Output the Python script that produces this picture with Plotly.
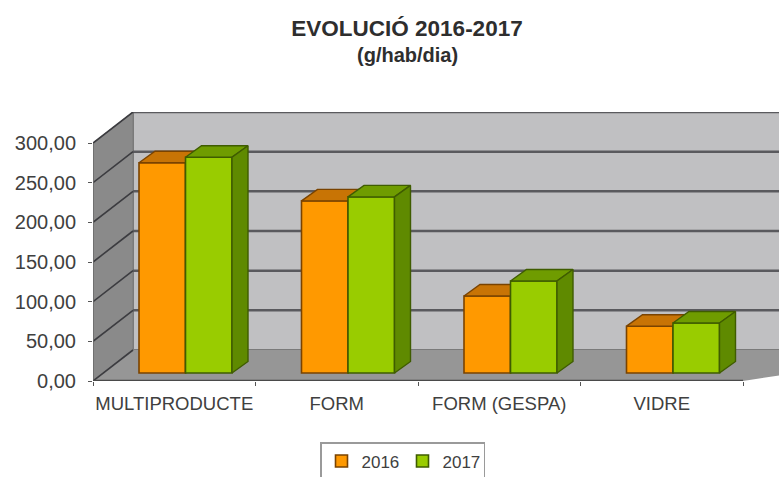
import plotly.graph_objects as go

# ---- data ----
categories = ["MULTIPRODUCTE", "FORM", "FORM (GESPA)", "VIDRE"]
values_2016 = [265, 217, 97, 59]
values_2017 = [272, 222, 116, 63]
y_ticks = [0, 50, 100, 150, 200, 250, 300]
y_labels = ["0,00", "50,00", "100,00", "150,00", "200,00", "250,00", "300,00"]

# ---- 3D projection, in axis units ----
PX_X = 162.5            # px per category
PX_Y = 238 / 300        # px per value unit
WALL_DX = 40 / PX_X
WALL_DY = 31 / PX_Y
BAR_DX = 16 / PX_X
BAR_DY = 11.5 / PX_Y
LIFT = 8 / PX_Y
BAR_W = 46.5 / PX_X
BAR_L = 46 / PX_X
X_MAX = 686 / PX_X
Y_MAX = 269 / PX_Y


def top_face(x0, v):
    x1 = x0 + BAR_W
    t = LIFT + v
    return [x0, x1, x1 + BAR_DX, x0 + BAR_DX, x0], [t, t, t + BAR_DY, t + BAR_DY, t]


def side_face(x0, v):
    x1 = x0 + BAR_W
    t = LIFT + v
    return ([x1, x1 + BAR_DX, x1 + BAR_DX, x1, x1],
            [LIFT, LIFT + BAR_DY, t + BAR_DY, t, LIFT])


def series(name, values, left, front, top, side, edge, xa, ya):
    n = len(values)
    lefts = [i + left for i in range(n)]
    traces = [go.Bar(
        name=name, x=[l + BAR_W / 2 for l in lefts], y=values, base=LIFT, width=BAR_W,
        marker=dict(color=front, line=dict(color=edge, width=1.6)),
        xaxis=xa, yaxis=ya, hoverinfo="name+y")]
    for l, v in zip(lefts, values):
        for face, col in ((top_face, top), (side_face, side)):
            fx, fy = face(l, v)
            traces.append(go.Scatter(
                x=fx, y=fy, mode="lines", fill="toself", fillcolor=col,
                line=dict(color=edge, width=1.4), showlegend=False,
                hoverinfo="skip", xaxis=xa, yaxis=ya))
    return traces


fig = go.Figure()
fig.add_traces(series("2016", values_2016, BAR_L, "#ff9900", "#c87405", "#b56a05", "#7a4300", "x", "y"))
fig.add_traces(series("2017", values_2017, BAR_L + BAR_W, "#99cc00", "#6f9c00", "#5f8a00", "#3f5c00", "x2", "y2"))

shapes = [
    # back wall
    dict(type="path", layer="below", line=dict(color="#7a7a7a", width=2), fillcolor="#c0c0c2",
         path=f"M {WALL_DX} {WALL_DY} L {X_MAX + 1} {WALL_DY} L {X_MAX + 1} {Y_MAX} L {WALL_DX} {Y_MAX} Z"),
    # left wall
    dict(type="path", layer="below", line=dict(color="#7a7a7a", width=1), fillcolor="#8a8a8a",
         path=f"M 0 0 L {WALL_DX} {WALL_DY} L {WALL_DX} {Y_MAX} L 0 {300} Z"),
    # floor
    dict(type="path", layer="below", line=dict(width=0), fillcolor="#969696",
         path=f"M 0 0 L {WALL_DX} {WALL_DY} L {X_MAX + 1} {WALL_DY} L 4 0 Z"),
]
for t in y_ticks[1:]:
    shapes.append(dict(type="line", layer="below", x0=WALL_DX, x1=X_MAX + 1,
                       y0=t + WALL_DY, y1=t + WALL_DY, line=dict(color="#5a5a5e", width=2.5)))
for t in y_ticks:
    shapes.append(dict(type="line", layer="below", x0=0, x1=WALL_DX,
                       y0=t, y1=t + WALL_DY, line=dict(color="#3c3c40", width=1.6)))
shapes.append(dict(type="line", layer="above", x0=0, x1=4, y0=0, y1=0,
                   line=dict(color="#4a4a4a", width=2.5)))
shapes.append(dict(type="line", layer="below", x0=0, x1=0, y0=0, y1=300,
                   line=dict(color="#6a6a6a", width=1.5)))

fig.update_layout(
    width=779, height=477, autosize=False,
    margin=dict(l=93, r=0, t=112, b=96),
    paper_bgcolor="white", plot_bgcolor="white",
    barmode="overlay", shapes=shapes,
    font=dict(family="Liberation Sans, Arial, sans-serif", color="#404040", size=17),
    title=dict(
        text="<b>EVOLUCIÓ 2016-2017</b>",
        x=407 / 779, xanchor="center", y=1 - 20 / 477, yanchor="top",
        font=dict(size=22.5, color="#2e2e2e")),
    annotations=[dict(text="<b>(g/hab/dia)</b>", xref="paper", yref="paper",
                      x=(407 - 93) / 686, y=1 + (112 - 55) / 269, xanchor="center", yanchor="middle",
                      showarrow=False, font=dict(size=20, color="#2e2e2e"))],
    xaxis=dict(range=[0, X_MAX], tickmode="array",
               tickvals=[i + 0.5 for i in range(len(categories))], ticktext=categories,
               ticks="", showgrid=False, zeroline=False, showline=False,
               tickfont=dict(size=18.5), ticklabelstandoff=9,
               minor=dict(tickmode="array", tickvals=[0, 1, 2, 3, 4], ticks="outside",
                          ticklen=4, tickcolor="#555", showgrid=False)),
    yaxis=dict(range=[0, Y_MAX], tickmode="array", tickvals=y_ticks, ticktext=y_labels,
               ticks="outside", ticklen=4, tickcolor="#555", showgrid=False, zeroline=False,
               showline=False, tickfont=dict(size=20), ticklabelstandoff=8),
    xaxis2=dict(overlaying="x", matches="x", visible=False),
    yaxis2=dict(overlaying="y", matches="y", visible=False),
    legend=dict(orientation="h", x=(320 - 93) / 686, xanchor="left", yref="container", y=1 - 442 / 477,
                yanchor="top", bordercolor="#9a9a9a", borderwidth=1.5, bgcolor="white",
                font=dict(size=17), itemwidth=30, entrywidth=36, traceorder="normal"),
)
fig.write_html("out.html", config={"displayModeBar": False},
               post_script="document.body.style.margin='0';")
